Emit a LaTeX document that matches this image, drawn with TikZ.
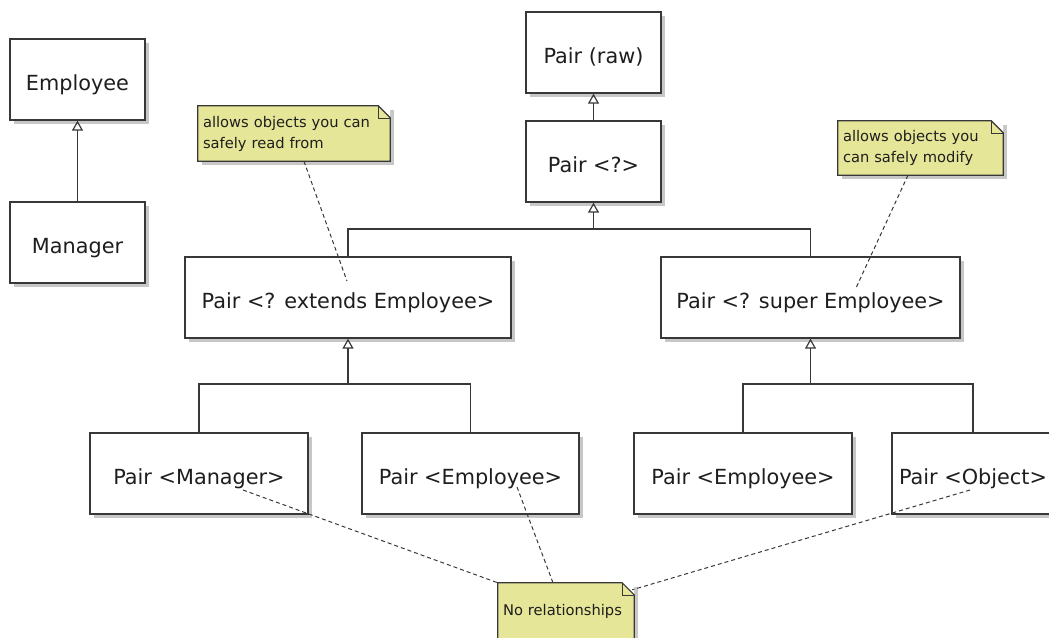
\documentclass[tikz,border=0pt]{standalone}
\usepackage{fontspec}
\setmainfont{DejaVu Sans}
\usetikzlibrary{arrows.meta,shadows}
\definecolor{notefill}{RGB}{230,230,152}
\definecolor{umlline}{RGB}{56,56,56}
\definecolor{umltext}{RGB}{30,30,30}

\begin{document}
\begin{tikzpicture}[x=1pt,y=-1pt,
        box/.style={draw=umlline, line width=1.3pt, fill=white, minimum height=81pt,
            text=umltext, font=\fontsize{20.8}{24}\selectfont, text height=21pt, text depth=0pt,
            drop shadow={shadow xshift=4pt, shadow yshift=-4pt, fill=black!22, opacity=1}},
        note/.style={fill=notefill, inner xsep=5pt, align=left, text=umltext,
            font=\fontsize{14.7}{21}\selectfont,
            drop shadow={shadow xshift=4pt, shadow yshift=-4pt, fill=black!22, opacity=1}},
        noteline/.style={draw=umlline, line width=1.2pt},
        fold/.style={draw=umlline, line width=0.5pt},
        inherit/.style={draw=umlline, line width=1.2pt, -{Triangle[open,length=10pt,width=11pt]}},
        tree/.style={draw=umlline, line width=1.2pt},
        link/.style={draw=umlline, line width=1pt, dash pattern=on 4pt off 3pt}]
    \useasboundingbox (0,0) rectangle (1049,637);
    %% Classes
    \node[box, minimum width=135pt] (emp)   at (77.5,79.5)   {Employee};
    \node[box, minimum width=135pt] (mgr)   at (77.5,242.5)  {Manager};
    \node[box, minimum width=135pt] (raw)   at (593.5,52.5)  {Pair (raw)};
    \node[box, minimum width=135pt] (pq)    at (593.5,161.5) {Pair <?>};
    \node[box, minimum width=326pt] (ext)   at (348,297.5)   {Pair <? extends Employee>};
    \node[box, minimum width=299pt] (sup)   at (810.5,297.5) {Pair <? super Employee>};
    \node[box, minimum width=218pt] (pmgr)  at (199,473.5)   {Pair <Manager>};
    \node[box, minimum width=217pt] (pemp1) at (470.5,473.5) {Pair <Employee>};
    \node[box, minimum width=218pt] (pemp2) at (743,473.5)   {Pair <Employee>};
    \node[box, minimum width=162pt] (pobj)  at (973,473.5)   {Pair <Object>};
    %% Notes
    \node[note, text width=182pt, minimum height=55pt] (n1) at (294,133.5)
        {allows objects you can\\safely read from};
    \node[note, text width=155pt, minimum height=54pt] (n2) at (920.5,148)
        {allows objects you\\can safely modify};
    \node[note, text width=126pt, minimum height=56pt] (n3) at (566,611)
        {No relationships};
    \fill[white] ([xshift=-12pt]n1.north east) -- (n1.north east) -- ([yshift=-12pt]n1.north east) -- cycle;
        \draw[noteline] (n1.north west) -- ([xshift=-12pt]n1.north east) -- ([yshift=-12pt]n1.north east) -- (n1.south east) -- (n1.south west) -- cycle;
        \draw[fold] ([xshift=-12pt]n1.north east) |- ([yshift=-12pt]n1.north east);
    \fill[white] ([xshift=-12pt]n2.north east) -- (n2.north east) -- ([yshift=-12pt]n2.north east) -- cycle;
        \draw[noteline] (n2.north west) -- ([xshift=-12pt]n2.north east) -- ([yshift=-12pt]n2.north east) -- (n2.south east) -- (n2.south west) -- cycle;
        \draw[fold] ([xshift=-12pt]n2.north east) |- ([yshift=-12pt]n2.north east);
    \fill[white] ([xshift=-12pt]n3.north east) -- (n3.north east) -- ([yshift=-12pt]n3.north east) -- cycle;
        \draw[noteline] (n3.north west) -- ([xshift=-12pt]n3.north east) -- ([yshift=-12pt]n3.north east) -- (n3.south east) -- (n3.south west) -- cycle;
        \draw[fold] ([xshift=-12pt]n3.north east) |- ([yshift=-12pt]n3.north east);
    %% Inheritance
    \draw[inherit] (mgr) -- (emp);
    \draw[inherit] (pq) -- (raw);
    \coordinate (t1) at (593.5,229);
    \draw[tree] (ext.north) |- (t1) -| (sup.north);
        \draw[inherit] (t1) -- (pq.south);
    \coordinate (t2) at (348,384);
    \draw[tree] (pmgr.north) |- (t2) -| (pemp1.north);
        \draw[inherit] (t2) -- (ext.south);
    \coordinate (t3) at (810.5,384);
    \draw[tree] (pemp2.north) |- (t3) -| (pobj.north);
        \draw[inherit] (t3) -- (sup.south);
    %% Note links
    \coordinate (l1) at (347,281);
    \coordinate (l2) at (856,288);
    \coordinate (l3) at (243,490);
    \coordinate (l4) at (517,487);
    \coordinate (l5) at (970,490);
    \draw[link] (n1) -- (l1);
    \draw[link] (n2) -- (l2);
    \draw[link] (l3) -- (n3.north west);
    \draw[link] (l4) -- ([xshift=-13pt]n3.north);
    \draw[link] (l5) -- ([xshift=-2pt,yshift=-7pt]n3.north east);
\end{tikzpicture}
\end{document}
